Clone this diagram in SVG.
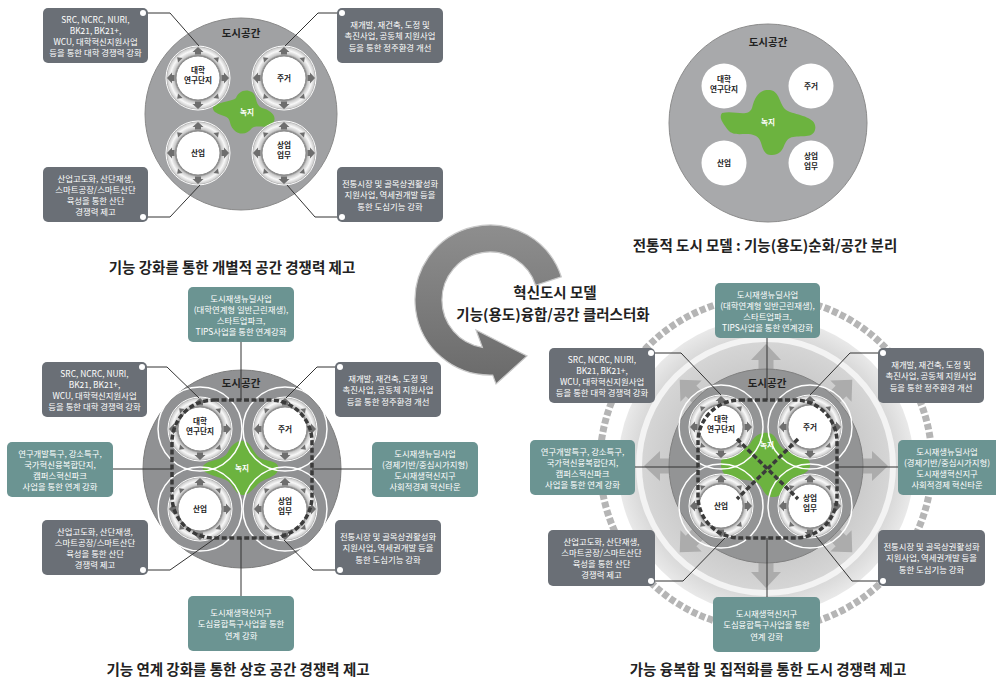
<svg xmlns="http://www.w3.org/2000/svg" width="996" height="682" viewBox="0 0 996 682">
<style>
text{font-family:'Noto Sans CJK KR','Noto Sans',sans-serif}
.bt{fill:#fff;font-size:8.4px;text-anchor:middle}
.gb{fill:#6a6f76}
.tb{fill:#6b9492}
.dot{fill:#fff}
.ln{fill:none;stroke:#333;stroke-width:1}
.dash{fill:none;stroke:#3b3b3b;stroke-width:3.5;stroke-dasharray:5 2.5}
.lbl{font-size:7.6px;font-weight:bold;fill:#222;text-anchor:middle}
.city{font-size:10.5px;font-weight:bold;fill:#222;text-anchor:middle}
.green{fill:#6cb33f}
.gt{font-size:7.6px;font-weight:bold;fill:#fff;text-anchor:middle}
.title{font-size:14.5px;font-weight:bold;fill:#222;text-anchor:middle}
.wc{fill:none;stroke:#fff;stroke-width:1.5}
.ba{fill:#acacac}
</style>
<defs>
<radialGradient id="rg" cx="0.5" cy="0.5" r="0.5">
 <stop offset="0.68" stop-color="#767676"/>
 <stop offset="0.75" stop-color="#c8c8c8"/>
 <stop offset="0.86" stop-color="#f8f8f8"/>
 <stop offset="0.95" stop-color="#d2d2d2"/>
 <stop offset="1" stop-color="#909090"/>
</radialGradient>
<radialGradient id="lg" cx="0.5" cy="0.5" r="0.5">
 <stop offset="0.6" stop-color="#c9c9c9"/>
 <stop offset="0.85" stop-color="#d6d6d6"/>
 <stop offset="1" stop-color="#e9e9e9"/>
</radialGradient>
<linearGradient id="ag" x1="0" y1="0" x2="0" y2="1">
 <stop offset="0" stop-color="#8e8e8e"/>
 <stop offset="1" stop-color="#6a6a6a"/>
</linearGradient>
<polygon id="ac" points="-3,-23.5 3,-23.5 3,-26 5.5,-26 0,-31 -5.5,-26 -3,-26" fill="#6e6e6e"/>
<polygon id="ad" points="-3.2,-25 3.2,-25 0,-29.5" fill="#6e6e6e"/>
<polygon id="blk" class="ba" points="-7.5,-92 -7.5,-106 -15,-106 0,-122 15,-106 7.5,-106 7.5,-92"/>
<g id="ring">
 <circle r="32" fill="url(#rg)" stroke="#fff" stroke-width="1"/>
 <circle r="22" fill="#fff" stroke="#8c8c8c" stroke-width="1"/>
 <use href="#ac"/>
 <use href="#ac" transform="rotate(90)"/>
 <use href="#ac" transform="rotate(180)"/>
 <use href="#ac" transform="rotate(270)"/>
 <use href="#ad" transform="rotate(45)"/>
 <use href="#ad" transform="rotate(135)"/>
 <use href="#ad" transform="rotate(225)"/>
 <use href="#ad" transform="rotate(315)"/>
</g>
</defs>
<rect width="996" height="682" fill="#fff"/>

<!-- ===== Top-left diagram ===== -->
<g id="tl-city">
 <circle cx="241" cy="114" r="96" fill="#a0a1a3" stroke="#8a8a8a" stroke-width="1"/>
 <text class="city" x="241" y="37">도시공간</text>
 <path class="green" d="M213,107 C222,100 232,102 236,98 C238,92 245,88 252,92 C258,96 254,104 262,108 C270,110 278,116 273,123 C268,130 258,124 252,128 C248,134 240,136 234,130 C228,124 232,118 224,116 C218,114 212,112 213,107 Z"/>
 <text class="gt" x="247" y="115">녹지</text>
</g>
<g id="tl-univ"><use href="#ring" transform="translate(198,78)"/><text class="lbl" x="198" y="73">대학</text><text class="lbl" x="198" y="83">연구단지</text></g>
<g id="tl-res"><use href="#ring" transform="translate(284,78)"/><text class="lbl" x="284" y="81">주거</text></g>
<g id="tl-ind"><use href="#ring" transform="translate(198,153)"/><text class="lbl" x="198" y="156">산업</text></g>
<g id="tl-com"><use href="#ring" transform="translate(284,153)"/><text class="lbl" x="284" y="148">상업</text><text class="lbl" x="284" y="158">업무</text></g>

<!-- ===== Top-right diagram ===== -->
<g id="tr-city">
 <circle cx="768" cy="123" r="99" fill="#a8a9ab" stroke="#8c8c8c" stroke-width="1"/>
 <text class="city" x="768" y="46">도시공간</text>
 <path class="green" d="M722,113 C735,110 748,118 752,108 C755,96 760,89 770,90 C782,92 778,108 790,112 C802,116 818,118 815,130 C812,140 798,134 790,138 C782,142 786,154 772,155 C760,156 764,140 756,136 C746,131 735,138 728,130 C724,124 718,118 722,113 Z"/>
 <text class="gt" x="768" y="125">녹지</text>
</g>
<g id="tr-univ"><circle cx="724" cy="86" r="22.5" fill="#fff"/><text class="lbl" x="724" y="82">대학</text><text class="lbl" x="724" y="92">연구단지</text></g>
<g id="tr-res"><circle cx="811" cy="86" r="22.5" fill="#fff"/><text class="lbl" x="811" y="89">주거</text></g>
<g id="tr-ind"><circle cx="724" cy="163" r="22.5" fill="#fff"/><text class="lbl" x="724" y="166">산업</text></g>
<g id="tr-com"><circle cx="811" cy="163" r="22.5" fill="#fff"/><text class="lbl" x="811" y="159">상업</text><text class="lbl" x="811" y="169">업무</text></g>

<!-- ===== Middle curved arrow ===== -->
<g id="cycle-arrow">
 <path d="M561.3,276.8 A75,75 0 1 0 492.7,375 L496,384 L527,356 L476,330 L482.4,347.4 A48,48 0 1 1 535.6,285.2 Z" fill="url(#ag)" stroke="#c9c9c9" stroke-width="1.2"/>
</g>

<!-- ===== Bottom-left diagram ===== -->
<g id="bl-city">
 <circle cx="242" cy="469" r="99" fill="#909193" stroke="#7c7c7c" stroke-width="1"/>
 <text class="city" x="241" y="387">도시공간</text>
 <path class="green" d="M203,466 C210,458 222,462 228,452 C232,444 238,440 244,441 C252,443 252,452 260,458 C268,462 280,460 278,470 C276,478 264,478 258,484 C252,490 248,496 242,495 C234,494 234,484 226,480 C218,476 200,474 203,466 Z"/>
 <circle class="wc" cx="200" cy="429" r="42"/>
 <circle class="wc" cx="285" cy="429" r="42"/>
 <circle class="wc" cx="200" cy="509" r="42"/>
 <circle class="wc" cx="285" cy="509" r="42"/>
 <text class="gt" x="242" y="471">녹지</text>
</g>
<g id="bl-univ"><use href="#ring" transform="translate(200,429)"/><text class="lbl" x="200" y="424">대학</text><text class="lbl" x="200" y="434">연구단지</text></g>
<g id="bl-res"><use href="#ring" transform="translate(285,429)"/><text class="lbl" x="285" y="432">주거</text></g>
<g id="bl-ind"><use href="#ring" transform="translate(200,509)"/><text class="lbl" x="200" y="512">산업</text></g>
<g id="bl-com"><use href="#ring" transform="translate(285,509)"/><text class="lbl" x="285" y="504">상업</text><text class="lbl" x="285" y="514">업무</text></g>
<rect class="dash" x="172" y="400" width="140" height="138" rx="42"/>

<!-- ===== Bottom-right diagram ===== -->
<g id="br-city">
 <circle cx="766" cy="463" r="166" fill="none" stroke="#b5b5b5" stroke-width="7" stroke-dasharray="6 2.5"/>
 <circle cx="766" cy="466" r="148" fill="url(#lg)"/>
 <circle cx="766" cy="466" r="127" fill="none" stroke="#f3f3f3" stroke-width="6"/>
 <use href="#blk" transform="translate(766,466)"/>
 <use href="#blk" transform="translate(766,466) rotate(45)"/>
 <use href="#blk" transform="translate(766,466) rotate(90)"/>
 <use href="#blk" transform="translate(766,466) rotate(135)"/>
 <use href="#blk" transform="translate(766,466) rotate(180)"/>
 <use href="#blk" transform="translate(766,466) rotate(225)"/>
 <use href="#blk" transform="translate(766,466) rotate(270)"/>
 <use href="#blk" transform="translate(766,466) rotate(315)"/>
 <circle cx="766" cy="466" r="97" fill="#939495" stroke="#808080" stroke-width="1"/>
 <text class="city" x="767" y="387">도시공간</text>
 <path class="green" d="M724,455 C730,446 744,452 750,444 C754,436 760,432 768,433 C778,434 776,446 786,450 C796,454 812,456 810,466 C808,476 796,474 790,480 C786,488 782,498 772,497 C762,496 764,486 756,482 C748,478 728,482 723,472 C720,466 720,460 724,455 Z"/>
 <circle class="wc" cx="721" cy="427" r="42"/>
 <circle class="wc" cx="810" cy="427" r="42"/>
 <circle class="wc" cx="721" cy="506" r="42"/>
 <circle class="wc" cx="810" cy="506" r="42"/>
 <text class="gt" x="767" y="448">녹지</text>
</g>
<g id="br-univ"><use href="#ring" transform="translate(721,427)"/><text class="lbl" x="721" y="422">대학</text><text class="lbl" x="721" y="432">연구단지</text></g>
<g id="br-res"><use href="#ring" transform="translate(810,427)"/><text class="lbl" x="810" y="430">주거</text></g>
<g id="br-ind"><use href="#ring" transform="translate(721,506)"/><text class="lbl" x="721" y="509">산업</text></g>
<g id="br-com"><use href="#ring" transform="translate(810,506)"/><text class="lbl" x="810" y="501">상업</text><text class="lbl" x="810" y="511">업무</text></g>
<g id="br-links">
 <rect class="dash" x="698" y="400" width="139" height="138" rx="42"/>
 <path class="dash" d="M737,439 L798,499 M798,439 L737,499"/>
</g>

<!-- ===== Connectors ===== -->
<g id="connectors">
 <path class="ln" d="M143,13 H170 L199,46"/>
 <path class="ln" d="M143,217 H170 L200,185"/>
 <path class="ln" d="M342,13 H318 L285,46"/>
 <path class="ln" d="M342,217 H315 L287,185"/>

 <path class="ln" d="M241,342 V400"/>
 <path class="ln" d="M142,367 H167 L199,398"/>
 <path class="ln" d="M340,367 H317 L286,398"/>
 <path class="ln" d="M113,469 H172"/>
 <path class="ln" d="M312,469 H372"/>
 <path class="ln" d="M143,570 H170 L220,535"/>
 <path class="ln" d="M340,570 H313 L284,540"/>
 <path class="ln" d="M241,538 V596"/>

 <path class="ln" d="M767,338 V400"/>
 <path class="ln" d="M652,353 H681 L721,395"/>
 <path class="ln" d="M883,353 H850 L810,395"/>
 <path class="ln" d="M635,467 H698"/>
 <path class="ln" d="M837,467 H898"/>
 <path class="ln" d="M651,581 H683 L725,538"/>
 <path class="ln" d="M883,581 H852 L816,536"/>
 <path class="ln" d="M767,538 V597"/>
</g>

<!-- ===== Boxes: top-left ===== -->
<g id="tl-box-univ"><rect class="gb" x="43" y="8" width="105" height="55" rx="5"/><circle class="dot" cx="143" cy="13" r="3"/>
 <text class="bt" x="95.5" y="23">SRC, NCRC, NURI,</text><text class="bt" x="95.5" y="34">BK21, BK21+,</text><text class="bt" x="95.5" y="45">WCU, 대학혁신지원사업</text><text class="bt" x="95.5" y="56">등을 통한 대학 경쟁력 강화</text></g>
<g id="tl-box-ind"><rect class="gb" x="43" y="167" width="105" height="55" rx="5"/><circle class="dot" cx="143" cy="217" r="3"/>
 <text class="bt" x="95.5" y="182">산업고도화, 산단재생,</text><text class="bt" x="95.5" y="193">스마트공장/스마트산단</text><text class="bt" x="95.5" y="204">육성을 통한 산단</text><text class="bt" x="95.5" y="215">경쟁력 제고</text></g>
<g id="tl-box-res"><rect class="gb" x="337" y="8" width="106" height="55" rx="5"/><circle class="dot" cx="342" cy="13" r="3"/>
 <text class="bt" x="390" y="27.5">재개발, 재건축, 도정 및</text><text class="bt" x="390" y="39">촉진사업, 공동체 지원사업</text><text class="bt" x="390" y="50.5">등을 통한 정주환경 개선</text></g>
<g id="tl-box-com"><rect class="gb" x="337" y="167" width="106" height="55" rx="5"/><circle class="dot" cx="342" cy="217" r="3"/>
 <text class="bt" x="390" y="186.5">전통시장 및 골목상권활성화</text><text class="bt" x="390" y="198">지원사업, 역세권개발 등을</text><text class="bt" x="390" y="209.5">통한 도심기능 강화</text></g>

<!-- ===== Boxes: bottom-left ===== -->
<g id="bl-box-top"><rect class="tb" x="188" y="287" width="106" height="55" rx="5"/>
 <text class="bt" x="241" y="302">도시재생뉴딜사업</text><text class="bt" x="241" y="313">(대학연계형 일반근린재생),</text><text class="bt" x="241" y="324">스타트업파크,</text><text class="bt" x="241" y="335">TIPS사업을 통한 연계강화</text></g>
<g id="bl-box-univ"><rect class="gb" x="42" y="362" width="105" height="55" rx="5"/><circle class="dot" cx="142" cy="367" r="3"/>
 <text class="bt" x="94.5" y="377">SRC, NCRC, NURI,</text><text class="bt" x="94.5" y="388">BK21, BK21+,</text><text class="bt" x="94.5" y="399">WCU, 대학혁신지원사업</text><text class="bt" x="94.5" y="410">등을 통한 대학 경쟁력 강화</text></g>
<g id="bl-box-res"><rect class="gb" x="335" y="362" width="106" height="55" rx="5"/><circle class="dot" cx="340" cy="367" r="3"/>
 <text class="bt" x="388" y="381.5">재개발, 재건축, 도정 및</text><text class="bt" x="388" y="393">촉진사업, 공동체 지원사업</text><text class="bt" x="388" y="404.5">등을 통한 정주환경 개선</text></g>
<g id="bl-box-left"><rect class="tb" x="7" y="442" width="106" height="55" rx="5"/>
 <text class="bt" x="60" y="457">연구개발특구, 강소특구,</text><text class="bt" x="60" y="468">국가혁신융복합단지,</text><text class="bt" x="60" y="479">캠퍼스혁신파크</text><text class="bt" x="60" y="490">사업을 통한 연계 강화</text></g>
<g id="bl-box-right"><rect class="tb" x="372" y="442" width="106" height="55" rx="5"/>
 <text class="bt" x="425" y="457">도시재생뉴딜사업</text><text class="bt" x="425" y="468">(경제기반/중심시가지형)</text><text class="bt" x="425" y="479">도시재생혁신지구</text><text class="bt" x="425" y="490">사회적경제 혁신타운</text></g>
<g id="bl-box-ind"><rect class="gb" x="42" y="520" width="106" height="55" rx="5"/><circle class="dot" cx="143" cy="570" r="3"/>
 <text class="bt" x="95" y="535">산업고도화, 산단재생,</text><text class="bt" x="95" y="546">스마트공장/스마트산단</text><text class="bt" x="95" y="557">육성을 통한 산단</text><text class="bt" x="95" y="568">경쟁력 제고</text></g>
<g id="bl-box-com"><rect class="gb" x="335" y="520" width="106" height="55" rx="5"/><circle class="dot" cx="340" cy="570" r="3"/>
 <text class="bt" x="388" y="539.5">전통시장 및 골목상권활성화</text><text class="bt" x="388" y="551">지원사업, 역세권개발 등을</text><text class="bt" x="388" y="562.5">통한 도심기능 강화</text></g>
<g id="bl-box-bottom"><rect class="tb" x="188" y="596" width="106" height="55" rx="5"/>
 <text class="bt" x="241" y="615.5">도시재생혁신지구</text><text class="bt" x="241" y="627">도심융합특구사업을 통한</text><text class="bt" x="241" y="638.5">연계 강화</text></g>

<!-- ===== Boxes: bottom-right ===== -->
<g id="br-box-top"><rect class="tb" x="715" y="283" width="105" height="55" rx="5"/>
 <text class="bt" x="767.5" y="298">도시재생뉴딜사업</text><text class="bt" x="767.5" y="309">(대학연계형 일반근린재생),</text><text class="bt" x="767.5" y="320">스타트업파크,</text><text class="bt" x="767.5" y="331">TIPS사업을 통한 연계강화</text></g>
<g id="br-box-univ"><rect class="gb" x="549" y="348" width="106" height="55" rx="5"/><circle class="dot" cx="651" cy="353" r="3"/>
 <text class="bt" x="602" y="363">SRC, NCRC, NURI,</text><text class="bt" x="602" y="374">BK21, BK21+,</text><text class="bt" x="602" y="385">WCU, 대학혁신지원사업</text><text class="bt" x="602" y="396">등을 통한 대학 경쟁력 강화</text></g>
<g id="br-box-res"><rect class="gb" x="878" y="348" width="106" height="55" rx="5"/><circle class="dot" cx="883" cy="353" r="3"/>
 <text class="bt" x="931" y="367.5">재개발, 재건축, 도정 및</text><text class="bt" x="931" y="379">촉진사업, 공동체 지원사업</text><text class="bt" x="931" y="390.5">등을 통한 정주환경 개선</text></g>
<g id="br-box-left"><rect class="tb" x="530" y="440" width="105" height="55" rx="5"/>
 <text class="bt" x="582.5" y="455">연구개발특구, 강소특구,</text><text class="bt" x="582.5" y="466">국가혁신융복합단지,</text><text class="bt" x="582.5" y="477">캠퍼스혁신파크</text><text class="bt" x="582.5" y="488">사업을 통한 연계 강화</text></g>
<g id="br-box-right"><rect class="tb" x="898" y="440" width="104" height="55" rx="5"/>
 <text class="bt" x="947" y="455">도시재생뉴딜사업</text><text class="bt" x="947" y="466">(경제기반/중심시가지형)</text><text class="bt" x="947" y="477">도시재생혁신지구</text><text class="bt" x="947" y="488">사회적경제 혁신타운</text></g>
<g id="br-box-ind"><rect class="gb" x="548" y="530" width="107" height="56" rx="5"/><circle class="dot" cx="651" cy="581" r="3"/>
 <text class="bt" x="601.5" y="545">산업고도화, 산단재생,</text><text class="bt" x="601.5" y="556">스마트공장/스마트산단</text><text class="bt" x="601.5" y="567">육성을 통한 산단</text><text class="bt" x="601.5" y="578">경쟁력 제고</text></g>
<g id="br-box-com"><rect class="gb" x="878" y="530" width="107" height="56" rx="5"/><circle class="dot" cx="883" cy="581" r="3"/>
 <text class="bt" x="931.5" y="549.5">전통시장 및 골목상권활성화</text><text class="bt" x="931.5" y="561">지원사업, 역세권개발 등을</text><text class="bt" x="931.5" y="572.5">통한 도심기능 강화</text></g>
<g id="br-box-bottom"><rect class="tb" x="713" y="597" width="107" height="55" rx="5"/>
 <text class="bt" x="766.5" y="616.5">도시재생혁신지구</text><text class="bt" x="766.5" y="628">도심융합특구사업을 통한</text><text class="bt" x="766.5" y="639.5">연계 강화</text></g>

<!-- ===== Titles ===== -->
<text class="title" x="232" y="273">기능 강화를 통한 개별적 공간 경쟁력 제고</text>
<text class="title" x="765" y="251">전통적 도시 모델 : 기능(용도)순화/공간 분리</text>
<text class="title" x="555" y="298">혁신도시 모델</text>
<text class="title" x="553" y="320">기능(용도)융합/공간 클러스터화</text>
<text class="title" x="238" y="675">기능 연계 강화를 통한 상호 공간 경쟁력 제고</text>
<text class="title" x="768" y="675">가능 융복합 및 집적화를 통한 도시 경쟁력 제고</text>
</svg>
